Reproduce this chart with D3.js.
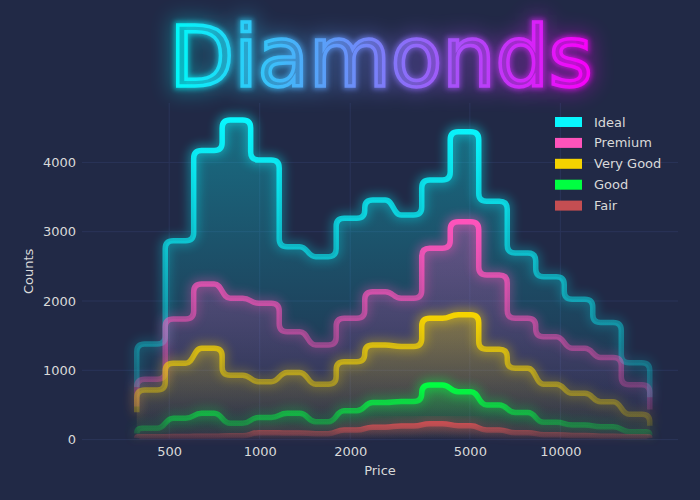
<!DOCTYPE html>
<html><head><meta charset="utf-8">
<script src="https://cdn.jsdelivr.net/npm/d3@7"></script>
<style>body{margin:0;background:#212946}text{font-family:"DejaVu Sans",sans-serif}</style>
</head><body>
<svg id="c" width="700" height="500"></svg>
<script>
const cuts = ["Ideal", "Premium", "Very Good", "Good", "Fair"];
const colors = ["#08F7FE", "#FE53BB", "#F5D300", "#00ff41", "#c44e52"];
const binEdges = [390, 485, 603, 750, 933, 1161, 1444, 1796, 2235, 2780, 3458, 4302, 5351, 6657, 8279, 10300, 12813, 15939, 19828];
const ideal    = [1380, 2870, 4170, 4610, 4034, 2784, 2640, 3193, 3458, 3241, 3746, 4443, 3440, 2692, 2351, 2025, 1690, 1110];
const premium  = [870, 1740, 2245, 2040, 1967, 1557, 1365, 1750, 2134, 2039, 2760, 3144, 2375, 1750, 1485, 1317, 1185, 790];
const veryGood = [715, 1101, 1317, 930, 836, 970, 800, 1124, 1365, 1345, 1750, 1800, 1305, 1030, 800, 668, 547, 365];
const good     = [163, 307, 380, 235, 320, 380, 258, 415, 535, 550, 788, 691, 500, 390, 250, 211, 186, 114];
const fair     = [40, 45, 50, 55, 100, 95, 85, 138, 180, 196, 230, 200, 140, 100, 70, 60, 50, 40];
const xTicks = [500, 1000, 2000, 5000, 10000];
const yTicks = [0, 1000, 2000, 3000, 4000];
const titleText = "Diamonds";
const xLabel = "Price", yLabel = "Counts";

(function () {
const series = [ideal, premium, veryGood, good, fair];

const svg = d3.select("#c");
const W = 700, H = 500;
const pL = 82, pR = 678, pT = 103, pB = 439.6;
const x = d3.scaleLog().domain([256.4, 24613]).range([pL, pR]);
const y = d3.scaleLinear().domain([0, 4857]).range([pB, pT]);
const txt = "#d9d9d9", grid = "#2A3459";

svg.append("rect").attr("width", W).attr("height", H).attr("fill", "#212946");
const defs = svg.append("defs");
function blur(id, sd) {
  defs.append("filter").attr("id", id).attr("x", "-50%").attr("y", "-50%").attr("width", "200%").attr("height", "200%")
    .append("feGaussianBlur").attr("stdDeviation", sd);
}
blur("bL", 5); blur("bT", 10); blur("bS", 2.5);

// grid
svg.append("g").selectAll("line").data(xTicks).join("line")
  .attr("x1", d => x(d)).attr("x2", d => x(d)).attr("y1", pT).attr("y2", pB)
  .attr("stroke", grid).attr("stroke-width", 1);
svg.append("g").selectAll("line").data(yTicks).join("line")
  .attr("y1", d => y(d)).attr("y2", d => y(d)).attr("x1", pL).attr("x2", pR)
  .attr("stroke", grid).attr("stroke-width", 1);

// gradients
series.forEach((vals, i) => {
  const mx = d3.max(vals);
  const lg = defs.append("linearGradient").attr("id", "ls" + i).attr("gradientUnits", "userSpaceOnUse")
    .attr("x1", 0).attr("x2", 0).attr("y1", y(0)).attr("y2", y(mx));
  lg.append("stop").attr("offset", 0).attr("stop-color", colors[i]).attr("stop-opacity", 0.06);
  lg.append("stop").attr("offset", 0.5).attr("stop-color", colors[i]).attr("stop-opacity", 0.5);
  lg.append("stop").attr("offset", 1).attr("stop-color", colors[i]).attr("stop-opacity", 1);
  const fg = defs.append("linearGradient").attr("id", "fs" + i).attr("gradientUnits", "userSpaceOnUse")
    .attr("x1", 0).attr("x2", 0).attr("y1", y(0)).attr("y2", y(mx));
  fg.append("stop").attr("offset", 0).attr("stop-color", colors[i]).attr("stop-opacity", 0.0);
  fg.append("stop").attr("offset", 1).attr("stop-color", colors[i]).attr("stop-opacity", 0.33);
});

function buildPath(vals, closed) {
  const xs = binEdges.map(v => x(v)), ys = vals.map(v => y(v));
  const n = vals.length, r = 8;
  const p = d3.path();
  const yS = closed ? y(0) : y(vals[0] * 0.55);
  const yE = closed ? y(0) : y(vals[n - 1] * 0.55);
  p.moveTo(xs[0], yS);
  const r0 = Math.min(r, Math.abs(yS - ys[0]));
  p.lineTo(xs[0], ys[0] + r0);
  p.quadraticCurveTo(xs[0], ys[0], xs[0] + r0, ys[0]);
  for (let i = 1; i < n; i++) {
    const xe = xs[i], ya = ys[i - 1], yb = ys[i], d = yb - ya, s = Math.sign(d);
    p.lineTo(xe - r, ya);
    if (Math.abs(d) > 2 * r) {
      p.quadraticCurveTo(xe, ya, xe, ya + s * r);
      p.lineTo(xe, yb - s * r);
      p.quadraticCurveTo(xe, yb, xe + r, yb);
    } else {
      p.bezierCurveTo(xe, ya, xe, yb, xe + r, yb);
    }
  }
  const xl = xs[n], yl = ys[n - 1];
  const rl = Math.min(r, Math.abs(yE - yl));
  p.lineTo(xl - rl, yl);
  p.quadraticCurveTo(xl, yl, xl, yl + rl);
  p.lineTo(xl, yE);
  if (closed) p.closePath();
  return p.toString();
}

const gF = svg.append("g"), gG = svg.append("g"), gL = svg.append("g");
series.forEach((vals, i) => {
  gF.append("path").attr("d", buildPath(vals, true)).attr("fill", `url(#fs${i})`);
});
series.forEach((vals, i) => {
  gG.append("path").attr("d", buildPath(vals, false)).attr("fill", "none")
    .attr("stroke", `url(#ls${i})`).attr("stroke-width", 12).attr("opacity", 0.4)
    .attr("stroke-linecap", "round").attr("stroke-linejoin", "round").attr("filter", "url(#bL)");
});
series.forEach((vals, i) => {
  gL.append("path").attr("d", buildPath(vals, false)).attr("fill", "none")
    .attr("stroke", `url(#ls${i})`).attr("stroke-width", 5.5)
    .attr("stroke-linecap", "butt").attr("stroke-linejoin", "round");
});

// axes
const ax = svg.append("g").attr("transform", `translate(0,${pB})`)
  .call(d3.axisBottom(x).tickValues(xTicks).tickFormat(d3.format("d")).tickSize(0).tickPadding(7));
const ay = svg.append("g").attr("transform", `translate(${pL},0)`)
  .call(d3.axisLeft(y).tickValues(yTicks).tickFormat(d3.format("d")).tickSize(0).tickPadding(6));
[ax, ay].forEach(a => {
  a.select(".domain").remove();
  a.selectAll("text").attr("fill", txt).attr("font-size", 13).attr("font-family", "DejaVu Sans");
});
svg.append("text").attr("x", (pL + pR) / 2).attr("y", 475).attr("text-anchor", "middle")
  .attr("fill", txt).attr("font-size", 13).text(xLabel);
svg.append("text").attr("transform", `translate(28,${(pT + pB) / 2}) rotate(-90)`)
  .attr("text-anchor", "middle").attr("dominant-baseline", "central")
  .attr("fill", txt).attr("font-size", 13).text(yLabel);

// legend
const lgd = svg.append("g");
cuts.forEach((c, i) => {
  const cy = 122 + i * 20.9;
  lgd.append("rect").attr("x", 555).attr("y", cy - 5).attr("width", 27).attr("height", 10).attr("fill", colors[i]);
  lgd.append("text").attr("x", 594).attr("y", cy).attr("dominant-baseline", "central")
    .attr("fill", txt).attr("font-size", 13).text(c);
});

// title
const tg = defs.append("linearGradient").attr("id", "tg").attr("gradientUnits", "userSpaceOnUse")
  .attr("x1", 176).attr("x2", 587).attr("y1", 0).attr("y2", 0);
tg.append("stop").attr("offset", 0).attr("stop-color", "#00ffff");
tg.append("stop").attr("offset", 1).attr("stop-color", "#ff00ff");
const tG = svg.append("g");
function title() {
  return tG.append("text").attr("x", 381).attr("y", 86).attr("text-anchor", "middle")
    .attr("font-size", 84).attr("font-family", "DejaVu Sans").text(titleText);
}
title().attr("fill", "url(#tg)").attr("stroke", "url(#tg)").attr("stroke-width", 14).attr("opacity", 0.3).attr("filter", "url(#bT)");
title().attr("fill", "none").attr("stroke", "url(#tg)").attr("stroke-width", 7).attr("opacity", 0.55).attr("filter", "url(#bS)");
title().attr("fill", "url(#tg)").attr("fill-opacity", 0.22).attr("stroke", "url(#tg)").attr("stroke-width", 3.5).attr("stroke-opacity", 0.9);
})();
</script>
</body></html>
